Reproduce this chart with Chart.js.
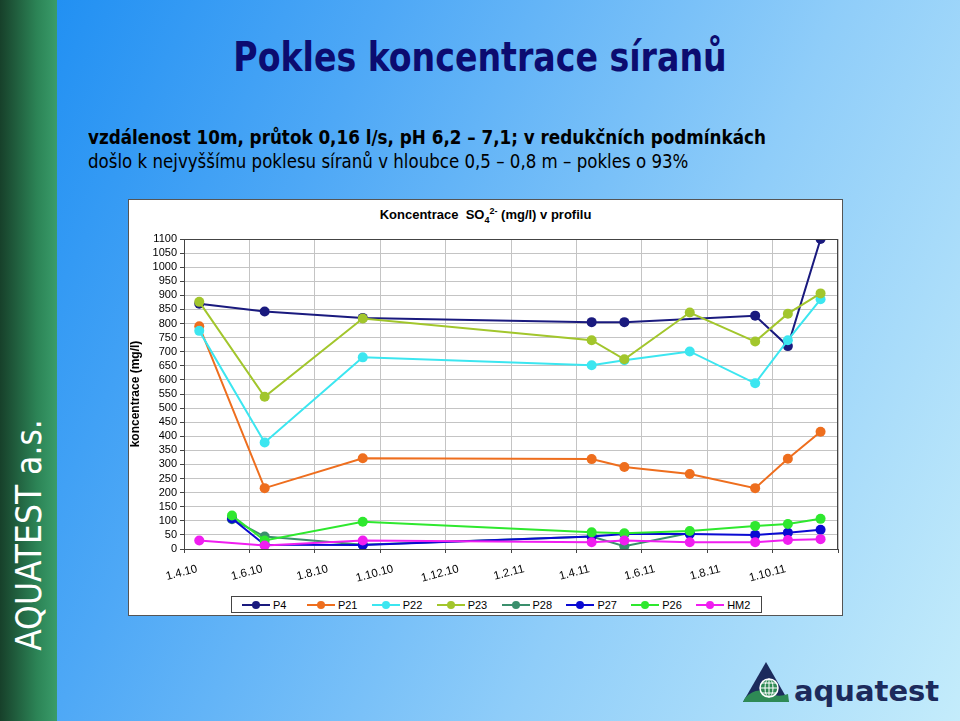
<!DOCTYPE html>
<html>
<head>
<meta charset="utf-8">
<script src="https://cdn.jsdelivr.net/npm/chart.js@4.4.1/dist/chart.umd.min.js"></script>
<style>
  html, body { margin: 0; padding: 0; }
  body {
    width: 960px; height: 721px; position: relative; overflow: hidden;
    background: linear-gradient(115deg, #1a8cf2 0%, #4ea8f6 30%, #8fcdf9 65%, #c4ecfb 100%);
    font-family: "Liberation Sans", Arial, sans-serif;
  }
  #strip {
    position: absolute; left: 0; top: 0; width: 57px; height: 721px;
    background: linear-gradient(to right, #17402a, #2c8456 65%, #3a9c6a);
  }
  #strip span {
    position: absolute; left: 29px; top: 535px;
    transform: translate(-50%, -50%) rotate(-90deg);
    color: #fff; font-size: 35px; white-space: nowrap;
    font-family: "DejaVu Sans Condensed", "Liberation Sans", sans-serif;
  }
  #title {
    position: absolute; left: 0; width: 960px; top: 33px; text-align: center;
    font-family: "DejaVu Sans Condensed", sans-serif;
    font-weight: bold; font-size: 41px; color: #0c0c70;
    transform: scaleX(0.9); transform-origin: 480px 0;
  }
  #sub { position: absolute; left: 88px; top: 125px; color: #000;
    font-family: "DejaVu Sans Condensed", sans-serif; transform-origin: 0 0; }
  #sub div { white-space: nowrap; transform-origin: 0 0; }
  #sub .l1 { font-weight: bold; font-size: 20px; line-height: 24px; transform: scaleX(0.933); }
  #sub .l2 { font-size: 19px; line-height: 24px; transform: scaleX(0.974); }
  #box {
    position: absolute; left: 128px; top: 199px; width: 715px; height: 417px;
    box-sizing: border-box; background: #fff; border: 1px solid #555;
  }
  #wrap { position: absolute; left: 128px; top: 199px; width: 715px; height: 417px; }
  #ctitle {
    position: absolute; left: 128px; width: 715px; top: 206px; text-align: center;
    font-weight: bold; font-size: 13px; color: #000;
  }
  #ctitle sub, #ctitle sup { font-size: 9px; }
  #legend {
    position: absolute; left: 231px; top: 596px; width: 531px; height: 17px;
    box-sizing: border-box; border: 1px solid #444; background: #fff;
    display: flex; align-items: center; padding-left: 10px; font-size: 11px;
  }
  #legend .it { width: 66.4px; display: flex; align-items: center; white-space: nowrap; }
  #legend .ln { position: relative; width: 28px; height: 2px; margin-right: 3px; }
  #legend .dt { position: absolute; left: 10px; top: -3px; width: 8px; height: 8px; border-radius: 50%; }
  #logo { position: absolute; left: 742px; top: 660px; width: 210px; height: 50px; }
  #logo span {
    position: absolute; left: 52px; top: 14px; font-family: "DejaVu Sans", sans-serif;
    font-weight: bold; font-size: 29px; color: #1c2a5c; letter-spacing: 0px;
  }
</style>
</head>
<body>
<div id="strip"><span>AQUATEST a.s.</span></div>
<div id="title">Pokles koncentrace síranů</div>
<div id="sub">
  <div class="l1">vzdálenost 10m, průtok 0,16 l/s, pH 6,2 – 7,1; v redukčních podmínkách</div>
  <div class="l2">došlo k nejvyššímu poklesu síranů v hloubce 0,5 – 0,8 m – pokles o 93%</div>
</div>
<div id="box"></div>
<div id="ctitle">Koncentrace&nbsp; SO<sub>4</sub><sup>2-</sup> (mg/l) v profilu</div>
<div id="wrap"><canvas id="myChart" width="715" height="417"></canvas></div>
<div id="legend"></div>
<div id="logo">
  <svg width="50" height="46" viewBox="0 0 50 46">
    <polygon points="24,2 47,42 1,42" fill="#1c2a5c"/>
    <path d="M3,38 Q14,26 26,33 Q36,38 46,34 L47,42 L1,42 Z" fill="#2e8a55"/>
    <circle cx="27" cy="28" r="9" fill="#2e8a55" stroke="#fff" stroke-width="1.5"/>
    <path d="M18,28 H36 M27,19 V37 M20,23 H34 M20,33 H34" stroke="#fff" stroke-width="1"/>
    <ellipse cx="27" cy="28" rx="4" ry="9" fill="none" stroke="#fff" stroke-width="1"/>
  </svg>
  <span>aquatest</span>
</div>

<script>
// data (odběry vždy kolem 15. dne v měsíci)
const sampleDates = ['15.4.10', '15.5.10', '15.6.10', '15.9.10', '15.4.11',
  '15.5.11', '15.7.11', '15.9.11', '15.10.11', '15.11.11']
const xTickLabels = ['1.4.10', '1.6.10', '1.8.10', '1.10.10', '1.12.10',
  '1.2.11', '1.4.11', '1.6.11', '1.8.11', '1.10.11', '']
const seriesNames = ['P4', 'P21', 'P22', 'P23', 'P28', 'P27', 'P26', 'HM2']

const p4 = [870, null, 843, 820, 805, 805, null, 828, 720, 1100]
const p21 = [790, null, 216, 322, 319, 291, 266, 216, 320, 416]
const p22 = [774, null, 378, 680, 652, 670, 701, 588, 741, 886]
const p23 = [877, null, 540, 818, 741, 673, 839, 736, 835, 907]
const p28 = [null, 106, 44, 15, 44, 10, 57, null, null, null]
const p27 = [null, 108, 15, 14, 44, 53, 53, 50, 58, 68]
const p26 = [null, 119, 30, 97, 59, 56, 64, 82, 89, 107]
const hm2 = [30, null, 12, 30, 24, 30, 24, 24, 32, 35]

const colors = ['#1a1a7e', '#ee6e1e', '#3ce6f0', '#a2c62c', '#3a8f6c', '#0a0ad2', '#2ee82e', '#f01ef0']

// převod data na počet měsíců od 1.4.10
function monthIndex(s) {
  const [d, m, y] = s.split('.').map(Number)
  return (y - 10) * 12 + (m - 4) + (d - 1) / 30
}
const xs = sampleDates.map(monthIndex)

const allSeries = [p4, p21, p22, p23, p28, p27, p26, hm2]
const datasets = allSeries.map((vals, i) => ({
  label: seriesNames[i],
  data: vals.map((v, j) => ({ x: xs[j], y: v })),
  borderColor: colors[i],
  backgroundColor: colors[i],
  borderWidth: 2,
  pointRadius: 5,
  pointHoverRadius: 5,
  pointBorderWidth: 0,
  spanGaps: true,
  tension: 0,
  order: allSeries.length - i
}))

const plotFrame = {
  id: 'plotFrame',
  afterDatasetsDraw(chart) {
    const a = chart.chartArea
    const ctx = chart.ctx
    ctx.save()
    ctx.strokeStyle = '#444'
    ctx.lineWidth = 1
    ctx.strokeRect(a.left + 0.5, a.top + 0.5, a.right - a.left - 1, a.bottom - a.top)
    ctx.restore()
  }
}

new Chart(document.getElementById('myChart').getContext('2d'), {
  type: 'line',
  data: { datasets },
  plugins: [plotFrame],
  options: {
    responsive: false,
    animation: false,
    layout: { padding: { top: 40, right: 1, left: 0, bottom: 0 } },
    plugins: { legend: { display: false }, tooltip: { enabled: false } },
    scales: {
      x: {
        type: 'linear', min: 0, max: 20,
        afterFit(scale) {
          scale.height = 67
          scale.paddingLeft = 0
          scale.paddingRight = 0
        },
        afterBuildTicks(scale) {
          scale.ticks = xTickLabels.map((t, i) => ({ value: i * 2 }))
        },
        ticks: {
          autoSkip: false, minRotation: 15, maxRotation: 15,
          labelOffset: 13, padding: 9, color: '#000',
          font: { family: 'Liberation Sans', size: 11.5 },
          callback: (v, i) => xTickLabels[i]
        },
        grid: { color: '#c4c4c4', tickColor: '#444', tickLength: 4 },
        border: { color: '#444' }
      },
      y: {
        min: 0, max: 1100,
        afterFit(scale) {
          scale.width = 56
          scale.paddingTop = 0
          scale.paddingBottom = 0
        },
        ticks: { stepSize: 50, maxTicksLimit: 30, autoSkip: false, padding: 3, color: '#000',
          font: { family: 'Liberation Sans', size: 11 },
          callback: v => String(v) },
        grid: { color: '#c4c4c4', tickColor: '#444', tickLength: 4 },
        border: { color: '#444' },
        title: { display: true, text: 'koncentrace (mg/l)', color: '#000', padding: 0,
          font: { family: 'Liberation Sans', size: 12, weight: 'bold' } }
      }
    }
  }
})

// legenda
const legend = document.getElementById('legend')
seriesNames.forEach((name, i) => {
  const it = document.createElement('div')
  it.className = 'it'
  it.innerHTML = '<span class="ln" style="background:' + colors[i] + '"><span class="dt" style="background:' +
    colors[i] + '"></span></span>' + name
  legend.appendChild(it)
})
</script>
</body>
</html>
